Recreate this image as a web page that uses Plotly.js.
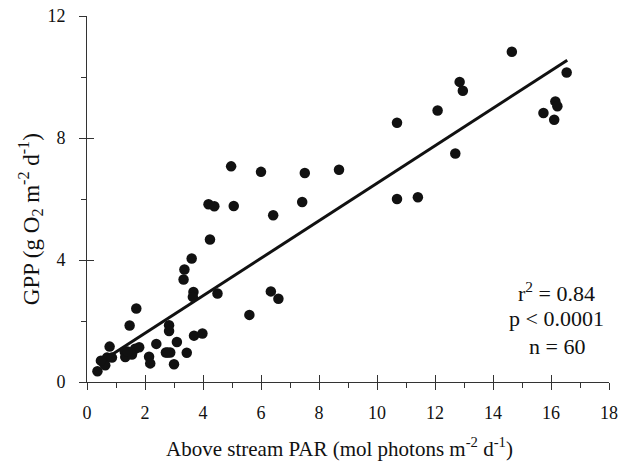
<!DOCTYPE html>
<html>
<head>
<meta charset="utf-8">
<script src="https://cdn.plot.ly/plotly-3.0.1.min.js"></script>
<style>html,body{margin:0;padding:0;background:#fff;}#chart{width:628px;height:464px;}</style>
</head>
<body>
<div id="chart"></div>
<script>
// Above stream PAR (mol photons m-2 d-1)
var parValues = [0.36,0.57,0.69,0.63,0.86,0.78,0.48,1.47,1.70,1.30,1.32,1.55,1.66,1.80,1.40,
  2.14,2.18,2.39,2.72,2.87,2.83,2.83,3.00,3.10,3.44,3.69,3.98,3.33,3.36,3.61,3.67,3.65,
  4.24,4.50,5.60,6.34,6.60,4.97,6.00,7.51,8.69,4.19,4.39,5.06,6.42,7.42,
  14.65,16.54,12.85,12.96,12.09,10.69,16.15,16.22,15.74,16.11,12.70,10.69,11.41,2.78];
// GPP (g O2 m-2 d-1)
var gppValues = [0.35,0.64,0.80,0.55,0.80,1.16,0.70,1.85,2.41,1.00,0.82,0.90,1.09,1.14,1.00,
  0.83,0.61,1.25,0.97,0.97,1.86,1.67,0.58,1.31,0.96,1.52,1.59,3.36,3.69,4.05,2.95,2.79,
  4.67,2.90,2.20,2.97,2.73,7.07,6.89,6.85,6.96,5.83,5.76,5.77,5.47,5.90,
  10.83,10.15,9.84,9.55,8.90,8.50,9.20,9.04,8.82,8.60,7.49,6.00,6.06,0.97];
// regression line end points
var fitX = [0.85, 16.56];
var fitY = [0.89, 10.55];
var xTickVals = [0,2,4,6,8,10,12,14,16,18];
var yTickVals = [0,4,8,12];
var xTitle = "Above stream PAR (mol photons m<sup>-2</sup> d<sup>-1</sup>)";
var yTitle = "GPP (g O<sub>2</sub> m<sup>-2</sup> d<sup>-1</sup>)";
var statLines = ["r<sup>2</sup> = 0.84", "p < 0.0001", "n = 60"];
var statY = [2.95, 2.08, 1.17];
var statX = 16.2;

var serif = "Liberation Serif, Times New Roman, serif";
var ink = "#111";
var traces = [
  {x: fitX, y: fitY, mode: "lines", line: {color: ink, width: 3}, hoverinfo: "skip", showlegend: false},
  {x: parValues, y: gppValues, mode: "markers", marker: {color: ink, size: 10.5}, showlegend: false},
  {x: [], y: [], xaxis: "x2", yaxis: "y2", showlegend: false}
];
var axisCommon = {showgrid: false, zeroline: false, showline: true, linecolor: "#333", linewidth: 1,
  tickcolor: "#333", tickwidth: 1, tickfont: {family: serif, size: 18, color: ink}};
var annotations = statLines.map(function (t, i) {
  return {x: statX, y: statY[i], xref: "x", yref: "y", text: t, showarrow: false,
    xanchor: "center", yanchor: "middle", font: {family: serif, size: 22, color: ink}};
});
annotations.push({x: 0.483, y: -0.18, xref: "paper", yref: "paper", text: xTitle, showarrow: false,
  xanchor: "center", yanchor: "middle", font: {family: serif, size: 21, color: ink}});
annotations.push({x: -0.109, y: 0.445, xref: "paper", yref: "paper", text: yTitle, showarrow: false,
  textangle: -90, xanchor: "center", yanchor: "middle", font: {family: serif, size: 23, color: ink}});
var layout = {
  width: 628, height: 464,
  margin: {l: 87, r: 19, t: 16, b: 82},
  paper_bgcolor: "#fff", plot_bgcolor: "#fff",
  font: {family: serif, color: ink},
  xaxis: Object.assign({}, axisCommon, {range: [0, 18], tickvals: xTickVals, ticks: "outside", ticklen: 7,
    ticklabelstandoff: 7,
    minor: {dtick: 1, tick0: 0, ticks: "outside", ticklen: 5, tickcolor: "#333", tickwidth: 1}}),
  yaxis: Object.assign({}, axisCommon, {range: [0, 12], tickvals: yTickVals, ticks: "outside", ticklen: 7,
    ticklabelstandoff: 10,
    minor: {dtick: 2, tick0: 0, ticks: "outside", ticklen: 5, tickcolor: "#333", tickwidth: 1}}),
  xaxis2: {overlaying: "x", anchor: "y2", range: [0, 18], tickvals: xTickVals, ticks: "inside", ticklen: 7,
    tickcolor: "#333", tickwidth: 1, showticklabels: false, showgrid: false, zeroline: false, showline: false},
  yaxis2: {overlaying: "y", anchor: "x2", side: "left", range: [0, 12], tickvals: yTickVals, ticks: "inside", ticklen: 7,
    tickcolor: "#333", tickwidth: 1, showticklabels: false, showgrid: false, zeroline: false, showline: false},
  annotations: annotations
};
Plotly.newPlot("chart", traces, layout, {displayModeBar: false, staticPlot: true});
</script>
</body>
</html>
